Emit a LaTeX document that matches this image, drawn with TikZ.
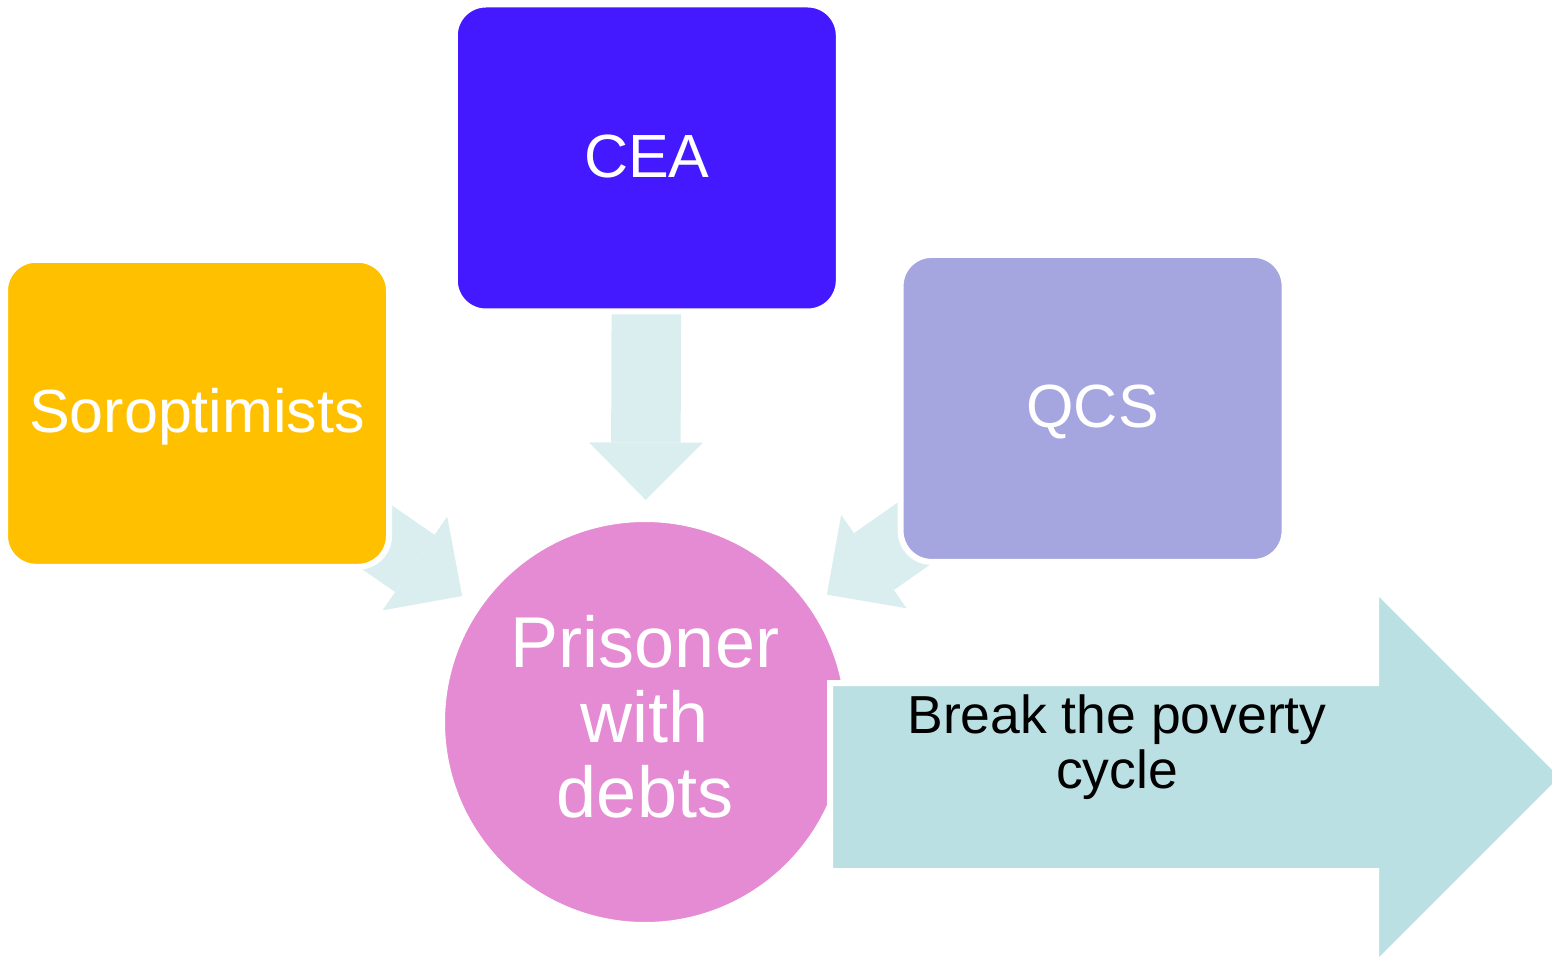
\documentclass[tikz,border=0pt]{standalone}
\usepackage{fontspec}
\setmainfont{Liberation Sans}
\usetikzlibrary{arrows.meta,backgrounds}
\definecolor{soroyellow}{HTML}{FFC000}
\definecolor{ceablue}{HTML}{4419FF}
\definecolor{qcslilac}{HTML}{A5A5DF}
\definecolor{prisonpink}{HTML}{E58BD3}
\definecolor{feedcyan}{HTML}{DAEEF0}
\definecolor{breakcyan}{HTML}{BBE0E3}

\tikzset{
  agency/.style={rectangle, rounded corners=31pt, draw=white, line width=6pt,
    minimum width=384pt, minimum height=307pt, inner sep=0pt, text=white,
    font=\fontsize{61}{63}\selectfont, text height=44pt, text depth=5pt},
  feed/.style={draw=feedcyan, line width=69.5pt, shorten >=16pt,
    -{Triangle[length=57.5pt,width=114pt,line width=0pt]}}
}

\begin{document}
\begin{tikzpicture}[x=1pt,y=-1pt]
    \useasboundingbox (0,0) rectangle (1552,957);

    % the three partners
    \node[agency, fill=soroyellow] (soro) at (197,413.3) {Soroptimists};
    \node[agency, fill=ceablue] (cea) at (646.8,158) {CEA};
    \node[agency, fill=qcslilac] (qcs) at (1092.6,408.4) {QCS};

    % the prisoner in the middle
    \node[circle, draw=white, line width=6pt, fill=prisonpink, minimum size=406pt,
        inner sep=0pt, text=white, align=center, font=\fontsize{72}{75}\selectfont,
        text depth=12pt] (prisoner) at (645,722) {Prisoner\\with\\debts};

    \begin{scope}[on background layer]
        \draw[feed] (soro.center) -- (prisoner);
        \draw[feed] (cea.center) -- (prisoner);
        \draw[feed] (qcs.center) -- (prisoner);
    \end{scope}

    % outcome arrow
    \draw[draw=white, line width=6pt, fill=breakcyan, line join=miter]
        (830,683) -- (1376,683) -- (1376,589.5) -- (1563.5,777) -- (1376,964.5)
        -- (1376,871) -- (830,871) -- cycle;
    \node[align=center, font=\fontsize{53.5}{55}\selectfont] (outcome) at (1117,747)
        {Break the poverty\\cycle};
\end{tikzpicture}
\end{document}
